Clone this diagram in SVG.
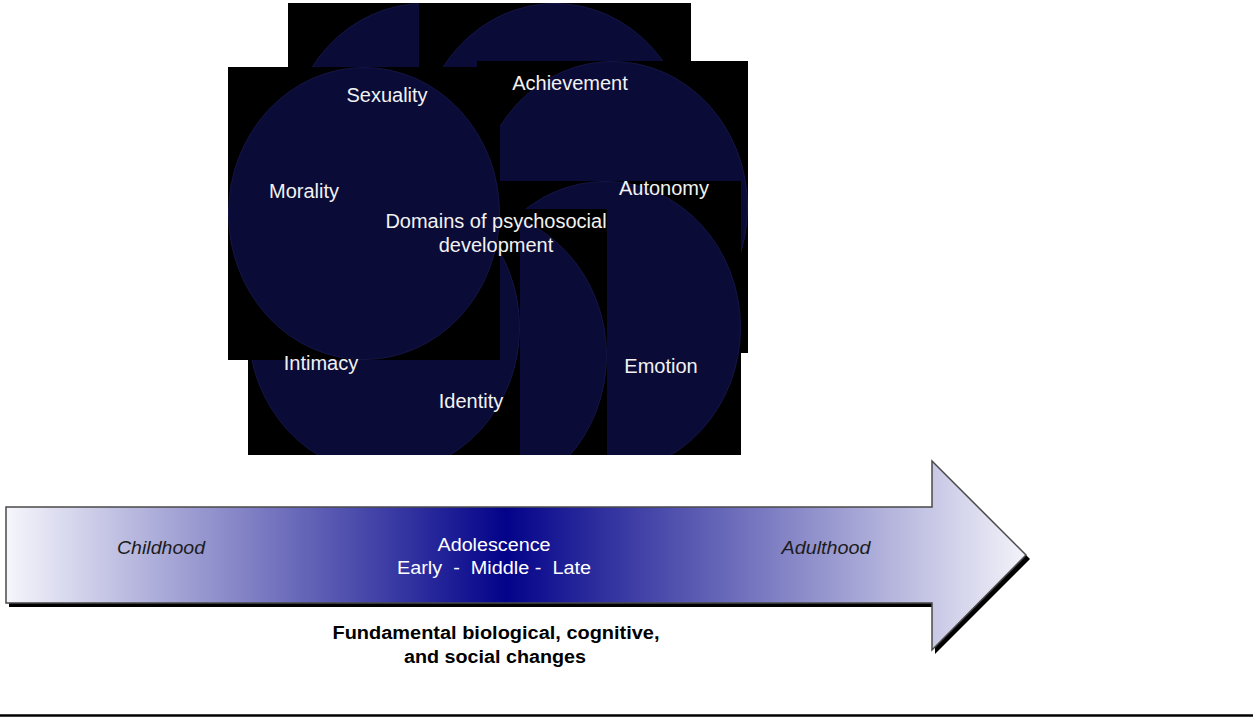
<svg xmlns="http://www.w3.org/2000/svg" width="1253" height="717" viewBox="0 0 1253 717">
<style>
.bg{fill:#000000}
.disc{fill:#0b0b37;stroke:#151548;stroke-width:1}
.lbl{font-family:"Liberation Sans",Arial,sans-serif;font-size:20px;fill:#f2f2f2;text-anchor:middle}
.atx{font-family:"Liberation Sans",Arial,sans-serif;font-size:17.5px;text-anchor:middle;white-space:pre}
.stage{font-style:italic;fill:#1c1c1c}
.ado{fill:#ffffff}
.cap{font-weight:bold;fill:#000000}
</style>
<defs>
<clipPath id="topclip"><rect x="0" y="0" width="1253" height="455"/></clipPath>
<linearGradient id="agrad" gradientUnits="userSpaceOnUse" x1="6" y1="0" x2="1026" y2="0">
<stop offset="0" stop-color="#f6f6fc"/>
<stop offset="0.49" stop-color="#03038a"/>
<stop offset="1" stop-color="#f3f3fa"/>
</linearGradient>
</defs>
<g id="discs" clip-path="url(#topclip)">
<g id="disc-a1"><rect class="bg" x="288" y="3" width="272" height="293"/><ellipse class="disc" cx="424" cy="149.5" rx="135.5" ry="146"/></g>
<g id="disc-a2"><rect class="bg" x="419" y="3" width="272" height="293"/><ellipse class="disc" cx="555" cy="149.5" rx="135.5" ry="146"/></g>
<g id="disc-c"><rect class="bg" x="477" y="61" width="271" height="292"/><ellipse class="disc" cx="612.5" cy="207" rx="135" ry="145.5"/></g>
<g id="disc-d"><rect class="bg" x="469" y="181" width="272" height="293"/><ellipse class="disc" cx="605" cy="327.5" rx="135.5" ry="146"/></g>
<g id="disc-g"><rect class="bg" x="335" y="209" width="272" height="293"/><ellipse class="disc" cx="471" cy="355.5" rx="135.5" ry="146"/></g>
<g id="disc-f"><rect class="bg" x="248" y="181" width="272" height="293"/><ellipse class="disc" cx="384" cy="327.5" rx="135.5" ry="146"/></g>
<g id="disc-b"><rect class="bg" x="228" y="67" width="272" height="293"/><ellipse class="disc" cx="364" cy="213.5" rx="135.5" ry="146"/></g>
</g>
<g id="node-center"><text class="lbl" x="496" y="228">Domains of psychosocial</text><text class="lbl" x="496" y="252">development</text></g>
<g id="node-sexuality"><text class="lbl" x="387" y="102">Sexuality</text></g>
<g id="node-achievement"><text class="lbl" x="570" y="90">Achievement</text></g>
<g id="node-autonomy"><text class="lbl" x="664" y="195">Autonomy</text></g>
<g id="node-emotion"><text class="lbl" x="661" y="373">Emotion</text></g>
<g id="node-identity"><text class="lbl" x="471" y="408">Identity</text></g>
<g id="node-intimacy"><text class="lbl" x="321" y="370">Intimacy</text></g>
<g id="node-morality"><text class="lbl" x="304" y="198">Morality</text></g>
<g id="timeline">
<polygon points="9,511 935,511 935,464 1030,559 935,654 935,607 9,607" fill="#000000"/>
<polygon points="6,507 932,507 932,461 1026,555 932,650 932,603 6,603" fill="url(#agrad)" stroke="#4a4a4a" stroke-width="1.5" stroke-linejoin="miter"/>
<text class="atx stage" x="161" y="554" textLength="88" lengthAdjust="spacingAndGlyphs">Childhood</text>
<text class="atx ado" x="494" y="551" textLength="113" lengthAdjust="spacingAndGlyphs">Adolescence</text>
<text class="atx ado" x="494" y="574" textLength="194" lengthAdjust="spacingAndGlyphs">Early  -  Middle -  Late</text>
<text class="atx stage" x="826" y="554" textLength="89" lengthAdjust="spacingAndGlyphs">Adulthood</text>
</g>
<g id="caption">
<text class="atx cap" x="496" y="639" textLength="327" lengthAdjust="spacingAndGlyphs">Fundamental biological, cognitive,</text>
<text class="atx cap" x="495" y="663" textLength="182" lengthAdjust="spacingAndGlyphs">and social changes</text>
</g>
<g id="connectors"/>
<line id="rule" x1="0" y1="715.5" x2="1253" y2="715.5" stroke="#000000" stroke-width="2.5"/>
</svg>
